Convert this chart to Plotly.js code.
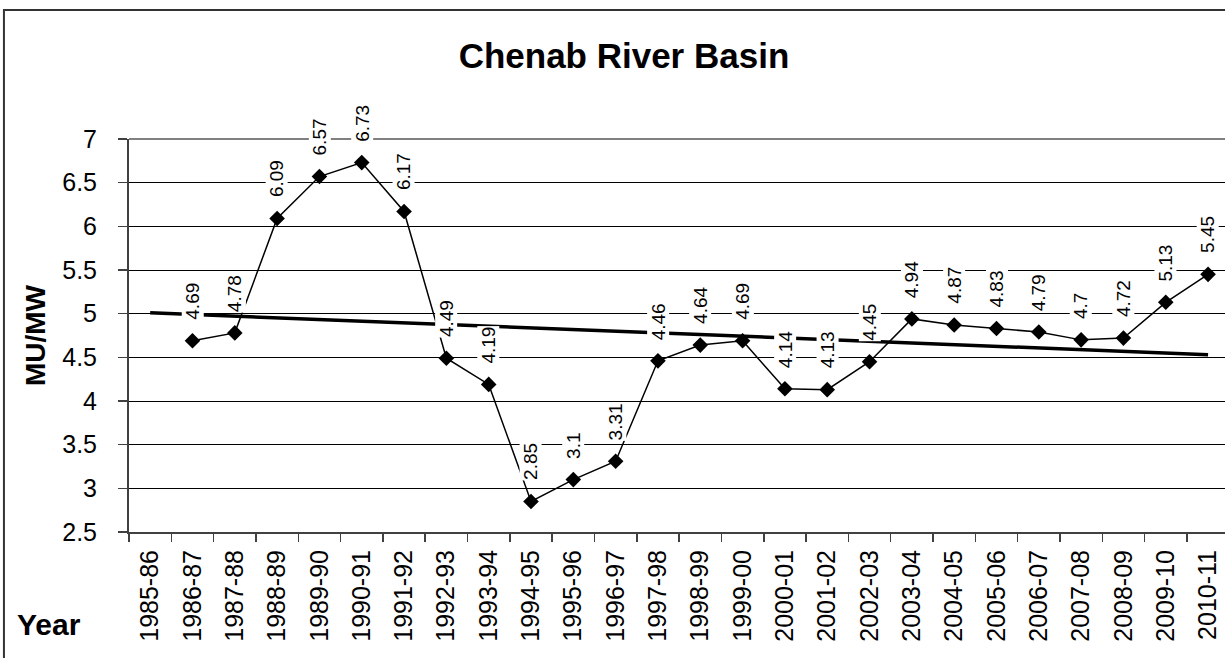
<!DOCTYPE html>
<html>
<head>
<meta charset="utf-8">
<script src="https://cdn.plot.ly/plotly-3.0.1.min.js"></script>
<style>html,body{margin:0;padding:0;background:#fff;}#chart{width:1225px;height:658px;}</style>
</head>
<body>
<div id="chart"></div>
<script>
// Category axis (financial years)
const categories = ['1985-86','1986-87','1987-88','1988-89','1989-90','1990-91','1991-92','1992-93','1993-94','1994-95','1995-96','1996-97','1997-98','1998-99','1999-00','2000-01','2001-02','2002-03','2003-04','2004-05','2005-06','2006-07','2007-08','2008-09','2009-10','2010-11'];
// Series: MU/MW per year (no value for 1985-86)
const pointYears = ['1986-87','1987-88','1988-89','1989-90','1990-91','1991-92','1992-93','1993-94','1994-95','1995-96','1996-97','1997-98','1998-99','1999-00','2000-01','2001-02','2002-03','2003-04','2004-05','2005-06','2006-07','2007-08','2008-09','2009-10','2010-11'];
const muPerMw = [4.69,4.78,6.09,6.57,6.73,6.17,4.49,4.19,2.85,3.1,3.31,4.46,4.64,4.69,4.14,4.13,4.45,4.94,4.87,4.83,4.79,4.7,4.72,5.13,5.45];
// Linear trend line end points
const trendYears = ['1985-86','2010-11'];
const trendValues = [5.01, 4.53];
// Y tick values
const yTicks = [2.5,3,3.5,4,4.5,5,5.5,6,6.5,7];

const FONT = '"Liberation Sans", Arial, sans-serif';
const NARROW = '"Liberation Sans Narrow", "Arial Narrow", "Liberation Sans", sans-serif';

const traces = [
  {
    type: 'scatter', mode: 'lines+markers',
    x: pointYears, y: muPerMw,
    line: {color: '#000', width: 1.5},
    marker: {symbol: 'diamond', size: 12, color: '#000'},
    hoverinfo: 'x+y', showlegend: false
  },
  {
    type: 'scatter', mode: 'lines',
    x: trendYears, y: trendValues,
    line: {color: '#000', width: 3.5},
    hoverinfo: 'skip', showlegend: false
  }
];

const labelAnnotations = pointYears.map((c, i) => ({
  x: c, y: muPerMw[i], xref: 'x', yref: 'y',
  text: String(muPerMw[i]), textangle: -90, showarrow: false,
  xanchor: 'center', yanchor: 'bottom', yshift: 20,
  bgcolor: '#fff', borderpad: 0,
  font: {family: NARROW, size: 19, color: '#000'}
}));

const layout = {
  width: 1225, height: 658,
  margin: {l: 129, r: 0, t: 139, b: 126, pad: 0},
  paper_bgcolor: '#fff', plot_bgcolor: '#fff',
  font: {family: FONT, color: '#000'},
  title: {
    text: '<b>Chenab River Basin</b>',
    font: {family: FONT, size: 35, color: '#000'},
    xref: 'paper', x: 0.4516, xanchor: 'center',
    yref: 'container', y: 0.916, yanchor: 'middle'
  },
  xaxis: {
    type: 'category', categoryorder: 'array', categoryarray: categories,
    range: [-0.5, 25.4],
    tickson: 'boundaries', ticks: 'outside', ticklen: 8, tickwidth: 1.5, tickcolor: '#404040',
    showline: true, linecolor: '#404040', linewidth: 2,
    showgrid: false, zeroline: false,
    tickangle: -90, ticklabelstandoff: 6,
    tickfont: {family: FONT, size: 25, color: '#000'},
    fixedrange: true
  },
  yaxis: {
    range: [2.5, 7], tickmode: 'array', tickvals: yTicks, ticktext: yTicks.map(String),
    ticks: 'outside', ticklen: 9, tickwidth: 1.5, tickcolor: '#404040',
    showline: true, linecolor: '#404040', linewidth: 2,
    showgrid: true, gridcolor: '#000', gridwidth: 1, zeroline: false,
    ticklabelstandoff: 16,
    tickfont: {family: FONT, size: 25, color: '#000'},
    title: {text: '<b>MU/MW</b>', font: {family: FONT, size: 28, color: '#000'}, standoff: 8},
    fixedrange: true
  },
  shapes: [
    {type: 'line', xref: 'paper', yref: 'paper', x0: 0, x1: 1, y0: 1, y1: 1,
     line: {color: '#808080', width: 2}},
    {type: 'rect', xref: 'paper', yref: 'paper', x0: -0.1141, x1: 1.05, y0: -0.6, y1: 1.3282,
     line: {color: '#333', width: 2}, fillcolor: 'rgba(0,0,0,0)', layer: 'above'}
  ],
  annotations: labelAnnotations.concat([
    {text: '<b>Year</b>', xref: 'paper', yref: 'paper', x: -0.104, y: -0.2366,
     xanchor: 'left', yanchor: 'middle', showarrow: false,
     font: {family: FONT, size: 30, color: '#000'}}
  ])
};

Plotly.newPlot('chart', traces, layout, {displayModeBar: false, staticPlot: true});
</script>
</body>
</html>
